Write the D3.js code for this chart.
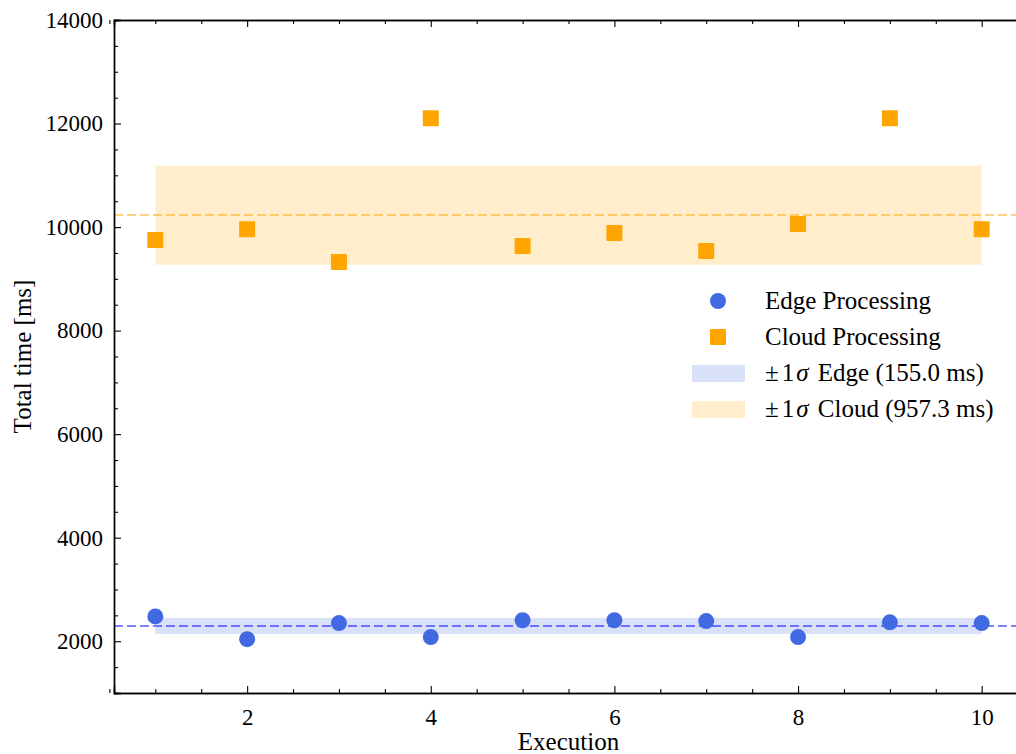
<!DOCTYPE html>
<html>
<head>
<meta charset="utf-8">
<script src="https://cdn.jsdelivr.net/npm/d3@7"></script>
<style>
  body { margin: 0; background: #fff; }
  svg { display: block; font-family: "Liberation Serif", "DejaVu Serif", serif; }
  svg text { font-family: "Liberation Serif", "DejaVu Serif", serif; }
</style>
</head>
<body>
<div id="chart"></div>
<script>
// data
var executions = [1, 2, 3, 4, 5, 6, 7, 8, 9, 10];
var edgeTimes = [2480, 2040, 2350, 2080, 2405, 2405, 2390, 2080, 2365, 2350];
var cloudTimes = [9750, 9960, 9325, 12100, 9635, 9885, 9540, 10060, 12100, 9960];
var edgeStd = 155.0;
var cloudStd = 957.3;
var xTicks = [2, 4, 6, 8, 10];
var yTicks = [2000, 4000, 6000, 8000, 10000, 12000, 14000];

const EDGE_COLOR = "#4169e1";
const CLOUD_COLOR = "#ffa500";
const SERIF = "Liberation Serif, DejaVu Serif, serif";

var width = 1016, height = 754;
var mLeft = 114, mRight = 1023, mTop = 20, mBottom = 693;

var svg = d3.select("#chart").append("svg")
    .attr("width", width)
    .attr("height", height);

var x = d3.scaleLinear().domain([0.55, 10.45]).range([mLeft, mRight]);
var y = d3.scaleLinear().domain([1000, 14000]).range([mBottom, mTop]);

var edgeMean = d3.mean(edgeTimes);
var cloudMean = d3.mean(cloudTimes);
var xMin = d3.min(executions), xMax = d3.max(executions);

// +-1 sigma bands
svg.append("rect")
    .attr("x", x(xMin)).attr("width", x(xMax) - x(xMin))
    .attr("y", y(cloudMean + cloudStd))
    .attr("height", y(cloudMean - cloudStd) - y(cloudMean + cloudStd))
    .attr("fill", CLOUD_COLOR).attr("fill-opacity", 0.2);
svg.append("rect")
    .attr("x", x(xMin)).attr("width", x(xMax) - x(xMin))
    .attr("y", y(edgeMean + edgeStd))
    .attr("height", y(edgeMean - edgeStd) - y(edgeMean + edgeStd))
    .attr("fill", EDGE_COLOR).attr("fill-opacity", 0.2);

// mean lines
svg.append("line")
    .attr("x1", mLeft).attr("x2", mRight)
    .attr("y1", y(cloudMean)).attr("y2", y(cloudMean))
    .attr("stroke", CLOUD_COLOR).attr("stroke-opacity", 0.5)
    .attr("stroke-width", 2).attr("stroke-dasharray", "9,4");
svg.append("line")
    .attr("x1", mLeft).attr("x2", mRight)
    .attr("y1", y(edgeMean)).attr("y2", y(edgeMean))
    .attr("stroke", "#0000ff").attr("stroke-opacity", 0.5)
    .attr("stroke-width", 2).attr("stroke-dasharray", "9,4");

// points
svg.selectAll(".edge")
    .data(executions)
    .enter()
    .append("circle")
    .attr("class", "edge")
    .attr("cx", function (d) { return x(d); })
    .attr("cy", function (d, i) { return y(edgeTimes[i]); })
    .attr("r", 8)
    .attr("fill", EDGE_COLOR);

var sq = 16;
svg.selectAll(".cloud")
    .data(executions)
    .enter()
    .append("rect")
    .attr("class", "cloud")
    .attr("x", function (d) { return x(d) - sq / 2; })
    .attr("y", function (d, i) { return y(cloudTimes[i]) - sq / 2; })
    .attr("width", sq).attr("height", sq)
    .attr("rx", 1)
    .attr("fill", CLOUD_COLOR);

// axes with inward ticks on all four sides
function styleAxis(g) {
    g.attr("font-family", SERIF).attr("font-size", 23);
    g.select(".domain").attr("stroke", "#000").attr("stroke-width", 1.4);
    g.selectAll(".tick line").attr("stroke", "#000").attr("stroke-width", 1.1);
    g.selectAll("text").attr("fill", "#000").style("font-family", SERIF).style("font-size", "23px");
}

var xMinor = d3.range(0.5, 10.51, 0.5).filter(function (v) { return v % 2 !== 0; });
var yMinor = d3.range(1000, 14001, 500).filter(function (v) { return v % 2000 !== 0; });

// minor ticks
[[d3.axisBottom(x), mBottom], [d3.axisTop(x), mTop]].forEach(function (a) {
    svg.append("g")
        .attr("transform", "translate(0," + a[1] + ")")
        .call(a[0].tickValues(xMinor).tickSize(-4).tickFormat(""))
        .call(styleAxis);
});
[[d3.axisLeft(y), mLeft], [d3.axisRight(y), mRight]].forEach(function (a) {
    svg.append("g")
        .attr("transform", "translate(" + a[1] + ",0)")
        .call(a[0].tickValues(yMinor).tickSize(-4).tickFormat(""))
        .call(styleAxis);
});

// major ticks
svg.append("g")
    .attr("transform", "translate(0," + mBottom + ")")
    .call(d3.axisBottom(x).tickValues(xTicks).tickSize(-7).tickPadding(16).tickFormat(d3.format("d")))
    .call(styleAxis);
svg.append("g")
    .attr("transform", "translate(0," + mTop + ")")
    .call(d3.axisTop(x).tickValues(xTicks).tickSize(-7).tickFormat(""))
    .call(styleAxis);
svg.append("g")
    .attr("transform", "translate(" + mLeft + ",0)")
    .call(d3.axisLeft(y).tickValues(yTicks).tickSize(-7).tickPadding(11).tickFormat(d3.format("d")))
    .call(styleAxis);
svg.append("g")
    .attr("transform", "translate(" + mRight + ",0)")
    .call(d3.axisRight(y).tickValues(yTicks).tickSize(-7).tickFormat(""))
    .call(styleAxis);

// axis labels
svg.append("text")
    .attr("x", (mLeft + mRight) / 2).attr("y", 750)
    .attr("text-anchor", "middle")
    .attr("font-size", "25px")
    .text("Execution");
svg.append("text")
    .attr("transform", "translate(31," + (mTop + mBottom) / 2 + ") rotate(-90)")
    .attr("text-anchor", "middle")
    .attr("font-size", "25px")
    .text("Total time [ms]");

// legend
var legend = svg.append("g").attr("transform", "translate(692,301)");
var rowH = 36;
legend.append("circle").attr("cx", 26).attr("cy", 0).attr("r", 8).attr("fill", EDGE_COLOR);
legend.append("rect").attr("x", 26 - sq / 2).attr("y", rowH - sq / 2)
    .attr("width", sq).attr("height", sq).attr("rx", 1).attr("fill", CLOUD_COLOR);
legend.append("rect").attr("x", 0).attr("y", 2 * rowH - 8).attr("width", 53).attr("height", 17)
    .attr("fill", EDGE_COLOR).attr("fill-opacity", 0.2);
legend.append("rect").attr("x", 0).attr("y", 3 * rowH - 8).attr("width", 53).attr("height", 17)
    .attr("fill", CLOUD_COLOR).attr("fill-opacity", 0.2);

var labels = [
    ["", "Edge Processing"],
    ["", "Cloud Processing"],
    ["\u00b1", " Edge (" + edgeStd.toFixed(1) + " ms)"],
    ["\u00b1", " Cloud (" + cloudStd.toFixed(1) + " ms)"]
];
var lbl = legend.selectAll(".lbl")
    .data(labels)
    .enter()
    .append("text")
    .attr("class", "lbl")
    .attr("x", 73)
    .attr("y", function (d, i) { return i * rowH + 8; })
    .attr("font-size", "25px");
lbl.each(function (d) {
    var t = d3.select(this);
    if (d[0]) {
        t.append("tspan").text(d[0]);
        t.append("tspan").attr("dx", 3).text("1");
        t.append("tspan").attr("font-style", "italic").attr("dx", 2).text("\u03c3");
        t.append("tspan").attr("dx", 3).text(d[1]);
    } else {
        t.append("tspan").text(d[1]);
    }
});
</script>
</body>
</html>
